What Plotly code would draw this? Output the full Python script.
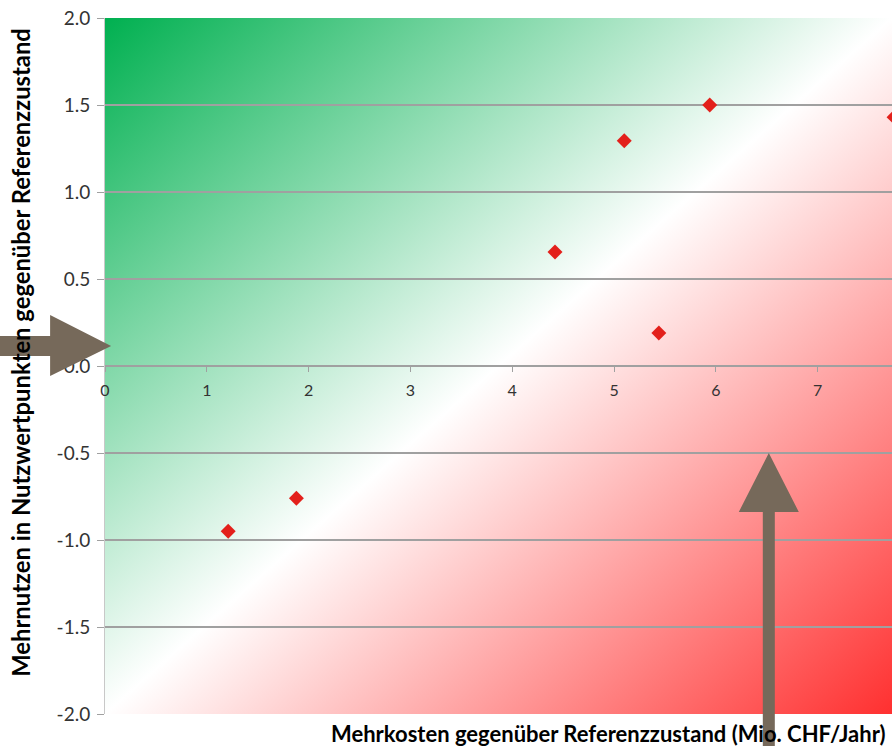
import base64
import plotly.graph_objects as go

# Varianten: Mehrkosten (Mio. CHF/Jahr) vs. Mehrnutzen (Nutzwertpunkte)
kosten = [1.21, 1.88, 4.42, 5.10, 5.44, 5.94, 7.75]
nutzen = [-0.95, -0.76, 0.655, 1.295, 0.19, 1.50, 1.43]

x_ticks = [0, 1, 2, 3, 4, 5, 6, 7]
y_ticks = [2.0, 1.5, 1.0, 0.5, 0.0, -0.5, -1.0, -1.5, -2.0]
y_ticktext = ["2.0", "1.5", "1.0", "0.5", "0.0", "-0.5", "-1.0", "-1.5", "-2.0"]

X_RANGE = [0, 7.73]
Y_RANGE = [-2.0, 2.0]

W, H = 892, 746
M_L, M_R, M_T, M_B = 105, 0, 18, 32
PW, PH = W - M_L - M_R, H - M_T - M_B

FONT = "Lato"
ARROW = "#76695A"

# diagonal background: green (top left) -> white -> red (bottom right)
svg = (
    '<svg xmlns="http://www.w3.org/2000/svg" width="100" height="100" '
    'viewBox="0 0 100 100" preserveAspectRatio="none">'
    '<defs><linearGradient id="g" x1="0" y1="0" x2="1" y2="1">'
    '<stop offset="0" stop-color="#00B050"/>'
    '<stop offset="0.5" stop-color="#FFFFFF"/>'
    '<stop offset="1" stop-color="#FF3030"/>'
    '</linearGradient></defs>'
    '<rect width="100" height="100" fill="url(#g)"/></svg>'
)
bg_src = "data:image/svg+xml;base64," + base64.b64encode(svg.encode()).decode()


def to_paper(xv, yv):
    px = (xv - X_RANGE[0]) / (X_RANGE[1] - X_RANGE[0])
    py = (yv - Y_RANGE[0]) / (Y_RANGE[1] - Y_RANGE[0])
    return px, py


def poly_path(points):
    return "M " + " L ".join(f"{a:.5f},{b:.5f}" for a, b in points) + " Z"


# right-pointing arrow entering from the left edge
tx, ty = to_paper(0.06, 0.115)
dx, dy = 1.0 / PW, 1.0 / PH
right_arrow = [
    (tx - 160 * dx, ty + 10 * dy), (tx - 61 * dx, ty + 10 * dy),
    (tx - 61 * dx, ty + 31 * dy), (tx, ty),
    (tx - 61 * dx, ty - 30 * dy), (tx - 61 * dx, ty - 10 * dy),
    (tx - 160 * dx, ty - 10 * dy),
]

# upward arrow rising from the bottom edge
ux, uy = to_paper(6.52, -0.5)
up_arrow = [
    (ux - 6 * dx, uy - 400 * dy), (ux - 6 * dx, uy - 59 * dy),
    (ux - 30 * dx, uy - 59 * dy), (ux, uy),
    (ux + 30 * dx, uy - 59 * dy), (ux + 6 * dx, uy - 59 * dy),
    (ux + 6 * dx, uy - 400 * dy),
]

fig = go.Figure()
fig.add_trace(go.Scatter(
    x=kosten, y=nutzen, mode="markers",
    marker=dict(symbol="diamond", size=11.5, color="#E3201B", line=dict(width=0)),
    showlegend=False, hoverinfo="x+y",
))

fig.update_layout(
    width=W, height=H,
    margin=dict(l=M_L, r=M_R, t=M_T, b=M_B, pad=0),
    paper_bgcolor="white",
    plot_bgcolor="rgba(0,0,0,0)",
    font=dict(family=FONT, color="#262626"),
    images=[dict(
        source=bg_src, xref="paper", yref="paper", x=0, y=1,
        sizex=1, sizey=1, xanchor="left", yanchor="top",
        sizing="stretch", layer="below",
    )],
    xaxis=dict(
        range=X_RANGE, tickvals=x_ticks, ticktext=[str(v) for v in x_ticks],
        anchor="free", position=0.5,
        showgrid=False, zeroline=False,
        showline=True, linecolor="#A0A0A0", linewidth=1.5,
        ticks="outside", ticklen=5, tickwidth=1, tickcolor="#A0A0A0",
        tickfont=dict(size=16, color="#333333", family=FONT),
        ticklabelstandoff=5,
        fixedrange=True,
    ),
    yaxis=dict(
        range=Y_RANGE, tickvals=y_ticks, ticktext=y_ticktext,
        showgrid=True, gridcolor="#A0A0A0", gridwidth=1.5,
        zeroline=False,
        showline=True, linecolor="#C8C8C8", linewidth=1,
        ticks="outside", ticklen=7, tickwidth=1, tickcolor="#A0A0A0",
        tickfont=dict(size=19, color="#333333", family=FONT),
        ticklabelstandoff=3,
        fixedrange=True,
    ),
    shapes=[
        dict(type="path", xref="paper", yref="paper", path=poly_path(right_arrow),
             fillcolor=ARROW, line=dict(width=0), layer="above"),
        dict(type="path", xref="paper", yref="paper", path=poly_path(up_arrow),
             fillcolor=ARROW, line=dict(width=0), layer="above"),
    ],
    annotations=[
        dict(text="<b>Mehrnutzen in Nutzwertpunkten gegenüber Referenzzustand</b>",
             xref="paper", yref="paper", x=(21 - M_L) / PW, y=0.519,
             xanchor="center", yanchor="middle", textangle=-90, showarrow=False,
             font=dict(size=23.8, color="#000000", family=FONT)),
        dict(text="<b>Mehrkosten gegenüber Referenzzustand (Mio. CHF/Jahr)</b>",
             xref="paper", yref="paper", x=(329 - M_L) / PW, y=-19 / PH,
             xanchor="left", yanchor="middle", showarrow=False,
             font=dict(size=22, color="#000000", family=FONT)),
    ],
)

fig.write_html("out.html")
